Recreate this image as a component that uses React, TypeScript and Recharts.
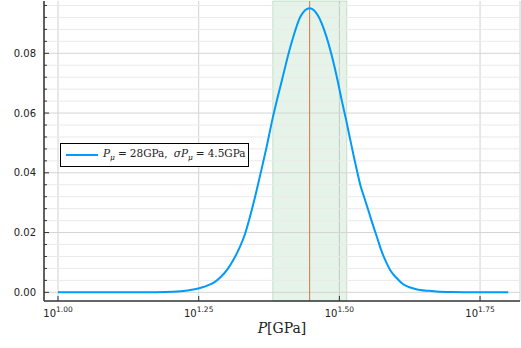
import React from "react";
import {
  CartesianGrid,
  Legend,
  Line,
  LineChart,
  ReferenceArea,
  ReferenceLine,
  XAxis,
  YAxis,
} from "recharts";

// pressure P [GPa] and probability density
const pressure = [
  10, 12, 14, 16, 17, 17.5, 18, 18.5, 19, 19.5, 20, 20.5, 21, 21.5, 22, 22.5,
  23, 23.5, 24, 25, 26, 27, 28, 29, 30, 31, 32, 32.5, 33, 33.5, 34, 34.5, 35,
  35.5, 36, 36.5, 37, 37.5, 38, 38.5, 39, 40, 41, 42, 43, 44, 45.5, 47, 50, 55,
  60, 63.1,
];
const density = [
  0, 0, 0, 0.0002, 0.0006, 0.001, 0.0016, 0.0024, 0.0035, 0.0053, 0.0077,
  0.0109, 0.0148, 0.0196, 0.0262, 0.0335, 0.0412, 0.049, 0.0572, 0.071,
  0.0835, 0.0925, 0.0951, 0.0925, 0.0855, 0.0755, 0.0635, 0.0578, 0.0518,
  0.046, 0.0405, 0.0355, 0.0318, 0.0282, 0.0245, 0.021, 0.0177, 0.0143, 0.0115,
  0.0092, 0.0072, 0.0047, 0.0028, 0.0018, 0.0012, 0.0008, 0.0005, 0.0003,
  0.0001, 0, 0, 0,
];

const meanP = 28;
const bandP = [24.08, 32.6];

const xExponents = [1, 1.25, 1.5, 1.75];
const yMajor = [0, 0.02, 0.04, 0.06, 0.08];
const yAll = Array.from({ length: 25 }, (_, i) => +(i * 0.004).toFixed(3));
const yMinor = yAll.filter((v) => !yMajor.includes(v));

const xTicks = xExponents.map((e) => Math.pow(10, e));
const data = pressure.map((p, i) => ({ p, d: density[i] }));

const X_DOMAIN: [number, number] = [9.443, 66.22];
const Y_DOMAIN: [number, number] = [-0.0029, 0.0975];

const BLUE = "#009afa";
const FRAME = "#333333";
const SANS = "'DejaVu Sans', sans-serif";
const SERIF = "'DejaVu Serif', 'Liberation Serif', serif";

const isMajor = (v: number) => yMajor.some((m) => Math.abs(m - v) < 1e-6);

const LeftTick = (props: any) => {
  const { x, y, payload } = props;
  const major = isMajor(payload.value);
  return (
    <g>
      <line x1={x} x2={x + (major ? 5 : 3)} y1={y} y2={y} stroke={FRAME} />
      {major && (
        <text x={x - 8} y={y} dy={3.6} textAnchor="end" fontFamily={SANS} fontSize={10} fill="#222">
          {payload.value.toFixed(2)}
        </text>
      )}
    </g>
  );
};

const RightTick = (props: any) => {
  const { x, y, payload } = props;
  const major = isMajor(payload.value);
  return <line x1={x} x2={x - (major ? 5 : 3)} y1={y} y2={y} stroke={FRAME} />;
};

const BottomTick = (props: any) => {
  const { x, y, payload } = props;
  const exp = Math.log10(payload.value).toFixed(2);
  return (
    <g>
      <line x1={x} x2={x} y1={y} y2={y - 5} stroke={FRAME} />
      <text x={x} y={y + 16} textAnchor="middle" fontFamily={SANS} fill="#222">
        <tspan fontSize={10}>10</tspan>
        <tspan fontSize={7.5} dy={-5}>{exp}</tspan>
      </text>
    </g>
  );
};

const TopTick = (props: any) => {
  const { x, y } = props;
  return <line x1={x} x2={x} y1={y} y2={y + 5} stroke={FRAME} />;
};

const XLabel = (props: any) => {
  const { viewBox } = props;
  const cx = viewBox.x + viewBox.width / 2;
  return (
    <text x={cx} y={333} textAnchor="middle" fontFamily={SERIF} fontSize={14} fill="#222">
      <tspan fontStyle="italic">P</tspan>
      <tspan>[GPa]</tspan>
    </text>
  );
};

const Eq = () => <span style={{ margin: "0 3px" }}>=</span>;
const Mu = () => (
  <sub style={{ fontSize: 7.5, fontStyle: "italic", verticalAlign: "-3px" }}>μ</sub>
);

const LegendBox = () => (
  <div
    style={{
      width: 189,
      height: 24,
      boxSizing: "border-box",
      border: "1px solid #000",
      background: "#fff",
      display: "flex",
      alignItems: "center",
      fontFamily: SERIF,
      fontSize: 10.5,
      color: "#222",
      whiteSpace: "nowrap",
      lineHeight: "12px",
    }}
  >
    <svg width={42} height={10} style={{ flex: "none" }}>
      <line x1={5} x2={37} y1={5} y2={5} stroke={BLUE} strokeWidth={2} />
    </svg>
    <span>
      <i>P</i>
      <Mu />
      <Eq />
      28GPa,
      <span style={{ marginLeft: 6 }} />
      <i>σP</i>
      <Mu />
      <Eq />
      4.5GPa
    </span>
  </div>
);

export default function App() {
  return (
    <div style={{ position: "absolute", left: 0, top: 0, width: 521, height: 348, background: "#fff" }}>
      <LineChart width={521} height={348} data={data} margin={{ top: 1, right: 1, left: 0, bottom: 0 }}>
        <XAxis
          xAxisId="b"
          dataKey="p"
          type="number"
          scale="log"
          domain={X_DOMAIN}
          allowDataOverflow
          ticks={xTicks}
          interval={0}
          height={47}
          tickSize={0}
          tickMargin={0}
          tick={<BottomTick />}
          axisLine={{ stroke: FRAME, strokeWidth: 1.5 }}
          label={<XLabel />}
        />
        <XAxis
          xAxisId="t"
          orientation="top"
          dataKey="p"
          type="number"
          scale="log"
          domain={X_DOMAIN}
          allowDataOverflow
          ticks={xTicks}
          interval={0}
          height={0}
          tickSize={0}
          tickMargin={0}
          tick={<TopTick />}
          axisLine={{ stroke: FRAME }}
        />
        <YAxis
          yAxisId="l"
          type="number"
          domain={Y_DOMAIN}
          allowDataOverflow
          ticks={yAll}
          interval={0}
          width={44}
          tickSize={0}
          tickMargin={0}
          tick={<LeftTick />}
          axisLine={{ stroke: FRAME, strokeWidth: 1.5 }}
        />
        <YAxis
          yAxisId="r"
          orientation="right"
          type="number"
          domain={Y_DOMAIN}
          allowDataOverflow
          ticks={yAll}
          interval={0}
          width={0}
          tickSize={0}
          tickMargin={0}
          tick={<RightTick />}
          axisLine={{ stroke: FRAME }}
        />
        {yMinor.map((v) => (
          <ReferenceLine key={"m" + v} xAxisId="b" yAxisId="l" y={v} stroke="#eaeaea" strokeWidth={1} />
        ))}
        {yMajor.map((v) => (
          <ReferenceLine key={"M" + v} xAxisId="b" yAxisId="l" y={v} stroke="#d4d4d4" strokeWidth={1} />
        ))}
        <CartesianGrid xAxisId="b" yAxisId="l" horizontal={false} stroke="#d2d2d2" />
        <ReferenceArea
          xAxisId="b"
          yAxisId="l"
          x1={bandP[0]}
          x2={bandP[1]}
          y1={Y_DOMAIN[0]}
          y2={Y_DOMAIN[1]}
          fill="#3da44d"
          fillOpacity={0.13}
          stroke="#3da44d"
          strokeOpacity={0.25}
        />
        <ReferenceLine xAxisId="b" yAxisId="l" x={meanP} stroke="#d2773f" strokeWidth={1} />
        <Line
          xAxisId="b"
          yAxisId="l"
          dataKey="d"
          type="monotone"
          stroke={BLUE}
          strokeWidth={2}
          dot={false}
          isAnimationActive={false}
        />
        <Legend
          layout="horizontal"
          verticalAlign="middle"
          align="center"
          content={<LegendBox />}
          wrapperStyle={{ left: 60, top: 143, width: 189, height: 24 }}
        />
      </LineChart>
    </div>
  );
}
